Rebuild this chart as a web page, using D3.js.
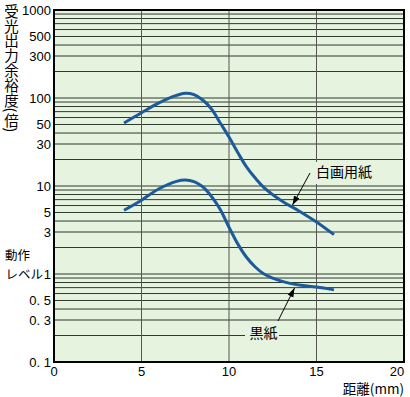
<!DOCTYPE html>
<html>
<head>
<meta charset="utf-8">
<script src="https://cdn.jsdelivr.net/npm/d3@7"></script>
<style>
  body { margin: 0; background: #fff; }
  text { fill: #000; }
  .num { font-family: "Liberation Sans", Arial, sans-serif; font-size: 13px; }
  .jp { font-family: "Noto Sans CJK JP", sans-serif; font-size: 13px; }
</style>
</head>
<body>
<svg width="410" height="397"></svg>
<script>
// distance (mm) and output margin for each paper
var whiteDist = [4, 5, 6, 7, 7.5, 8, 8.5, 9, 9.5, 10, 10.5, 11, 11.5, 12, 13, 14, 15, 16];
var whitePaper = [52, 68, 88, 107, 113, 109, 95, 75, 52, 36, 24, 16.5, 12.3, 9.6, 6.8, 5.2, 3.9, 2.8];
var blackDist = [4, 5, 6, 7, 7.5, 8, 8.5, 9, 9.5, 10, 10.5, 11, 11.5, 12, 13, 14, 15, 16];
var blackPaper = [5.3, 6.9, 9.3, 11.3, 11.7, 11.2, 9.8, 7.6, 5.4, 3.4, 2.2, 1.55, 1.2, 1.0, 0.83, 0.75, 0.71, 0.66];

var xTicks = [0, 5, 10, 15, 20];
var yTicks = [1000, 500, 300, 100, 50, 30, 10, 5, 3, 1, 0.5, 0.3, 0.1];
var yTickLabels = ["1000", "500", "300", "100", "50", "30", "10", "5", "3", "1", "0. 5", "0. 3", "0. 1"];

var svg = d3.select("svg"),
    margin = {top: 10, right: 6, bottom: 35, left: 54},
    width = +svg.attr("width") - margin.left - margin.right,
    height = +svg.attr("height") - margin.top - margin.bottom,
    g = svg.append("g").attr("transform", "translate(" + margin.left + "," + margin.top + ")");

var x = d3.scaleLinear().domain([0, 20]).range([0, width]);
var y = d3.scaleLog().domain([0.1, 1000]).range([height, 0]);

var defs = svg.append("defs");
defs.append("marker")
    .attr("id", "arrow")
    .attr("viewBox", "0 0 10 10")
    .attr("refX", 10).attr("refY", 5)
    .attr("markerWidth", 9).attr("markerHeight", 9)
    .attr("markerUnits", "userSpaceOnUse")
    .attr("orient", "auto")
  .append("path")
    .attr("d", "M0,1.5L10,5L0,8.5Z")
    .attr("fill", "#000");

g.append("rect")
    .attr("width", width).attr("height", height)
    .attr("fill", "#e5f3df");

// horizontal log grid
var gridVals = [];
[0.1, 1, 10, 100].forEach(function (d) {
    for (var i = 1; i <= 9; i++) gridVals.push(d * i);
});
g.selectAll(".hgrid")
    .data(gridVals)
  .enter().append("line")
    .attr("x1", 0).attr("x2", width)
    .attr("y1", function (d) { return y(d); })
    .attr("y2", function (d) { return y(d); })
    .attr("stroke", "#2f3a2f")
    .attr("stroke-width", 1);

g.selectAll(".vgrid")
    .data([5, 10, 15])
  .enter().append("line")
    .attr("x1", function (d) { return x(d); })
    .attr("x2", function (d) { return x(d); })
    .attr("y1", 0).attr("y2", height)
    .attr("stroke", "#555")
    .attr("stroke-width", 1);

// label backgrounds that break the grid
g.append("rect").attr("x", x(14.6)).attr("y", 152).attr("width", 62).attr("height", 22)
    .attr("fill", "#e5f3df");
g.append("rect").attr("x", 191).attr("y", 314).attr("width", 34).attr("height", 18)
    .attr("fill", "#e5f3df");

var line = function (xs) {
    return d3.line()
        .x(function (d, i) { return x(xs[i]); })
        .y(function (d) { return y(d); })
        .curve(d3.curveCatmullRom.alpha(0.5));
};

g.append("path")
    .datum(whitePaper)
    .attr("fill", "none")
    .attr("stroke", "#1c5a9c")
    .attr("stroke-width", 3)
    .attr("d", line(whiteDist));
g.append("path")
    .datum(blackPaper)
    .attr("fill", "none")
    .attr("stroke", "#1c5a9c")
    .attr("stroke-width", 3)
    .attr("d", line(blackDist));

g.append("rect")
    .attr("width", width).attr("height", height)
    .attr("fill", "none")
    .attr("stroke", "#000")
    .attr("stroke-width", 2);

// annotations
g.append("line")
    .attr("x1", 310 - margin.left).attr("y1", 173 - margin.top)
    .attr("x2", 292.5 - margin.left).attr("y2", 205 - margin.top)
    .attr("stroke", "#000").attr("stroke-width", 1)
    .attr("marker-end", "url(#arrow)");
g.append("text").attr("class", "jp")
    .attr("x", 316 - margin.left).attr("y", 172 - margin.top)
    .attr("dy", "0.35em")
    .style("font-size", "14px")
    .text("白画用紙");

g.append("line")
    .attr("x1", 278 - margin.left).attr("y1", 321 - margin.top)
    .attr("x2", 294.5 - margin.left).attr("y2", 288 - margin.top)
    .attr("stroke", "#000").attr("stroke-width", 1)
    .attr("marker-end", "url(#arrow)");
g.append("text").attr("class", "jp")
    .attr("x", 263.5 - margin.left).attr("y", 333 - margin.top)
    .attr("dy", "0.35em")
    .attr("text-anchor", "middle")
    .style("font-size", "14px")
    .text("黒紙");

// y tick labels
g.selectAll(".ylab")
    .data(yTicks)
  .enter().append("text")
    .attr("class", "num")
    .attr("x", -3)
    .attr("y", function (d) { return y(d); })
    .attr("dy", "0.36em")
    .attr("text-anchor", "end")
    .text(function (d, i) { return yTickLabels[i]; });

// "動作 レベル" before the 1 label
svg.append("text").attr("class", "jp")
    .attr("x", 5).attr("y", 256).attr("dy", "0.35em")
    .style("font-size", "12.5px")
    .text("動作");
svg.append("text").attr("class", "jp")
    .attr("x", 43).attr("y", 275).attr("dy", "0.35em")
    .attr("text-anchor", "end")
    .style("font-size", "12.5px")
    .text("レベル");

// x tick labels
g.selectAll(".xlab")
    .data(xTicks)
  .enter().append("text")
    .attr("class", "num")
    .attr("x", function (d) { return d === 20 ? x(d) - 7 : x(d); })
    .attr("y", height + 9)
    .attr("dy", "0.36em")
    .attr("text-anchor", "middle")
    .text(function (d) { return d; });

svg.append("text").attr("class", "jp")
    .attr("x", 404).attr("y", 389.5).attr("dy", "0.35em")
    .attr("text-anchor", "end")
    .style("font-size", "13.5px")
    .text("距離(mm)");

// vertical y title
svg.append("text")
    .attr("class", "jp")
    .attr("x", 11.5)
    .attr("y", 4)
    .style("writing-mode", "vertical-rl")
    .style("font-size", "14.5px")
    .style("letter-spacing", "0.3px")
    .text("受光出力余裕度(倍)");
</script>
</body>
</html>
